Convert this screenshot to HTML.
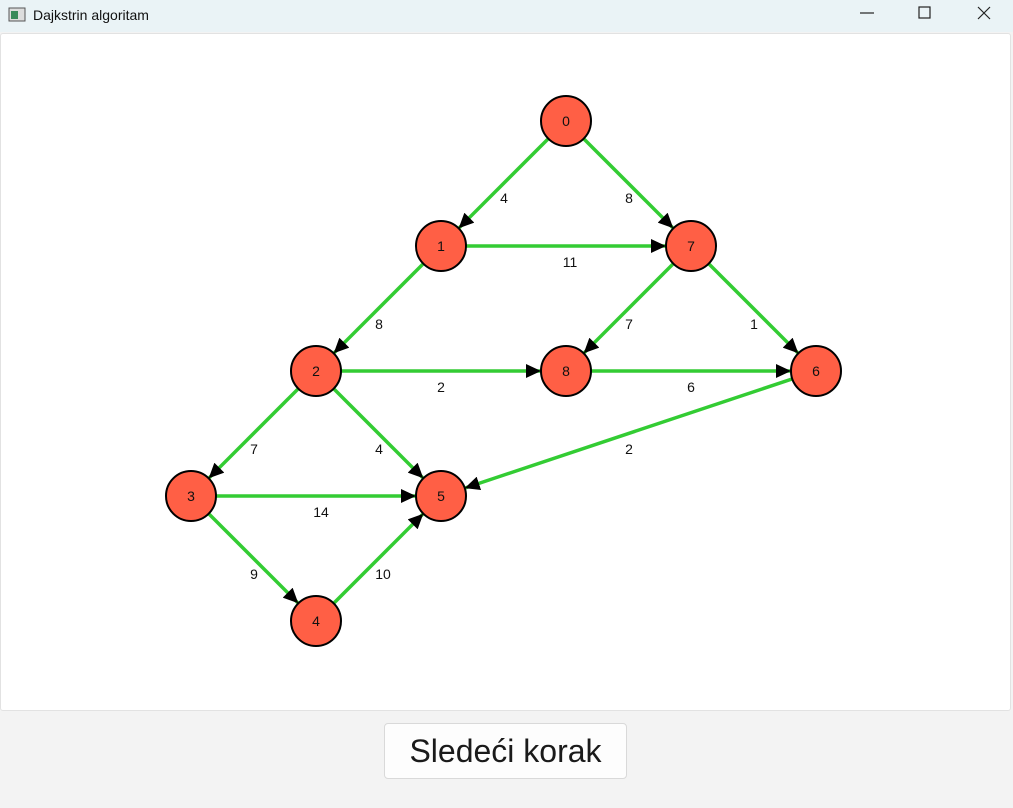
<!DOCTYPE html>
<html><head><meta charset="utf-8"><style>
body{margin:0;width:1013px;height:808px;background:#f3f3f3;font-family:"Liberation Sans",sans-serif;position:relative;overflow:hidden}
.tb{position:absolute;left:0;top:0;width:1013px;height:32px;background:#eaf3f6}
.tb span{position:absolute;left:33px;top:7px;font-size:14px;color:#111}
.panel{position:absolute;left:0;top:33px;width:1009px;height:676px;background:#fff;border:1px solid #e2e2e2;border-radius:3px}
.btn{position:absolute;left:384px;top:723px;width:241px;height:54px;background:#fdfdfd;border:1px solid #d9d9d9;border-radius:4px;font-size:32px;color:#1a1a1a;text-align:center;line-height:54px}
svg{position:absolute;left:0;top:0}
</style></head><body>
<div class="tb"><span>Dajkstrin algoritam</span></div>
<div class="panel"></div>
<div class="btn">Sledeći korak</div>
<svg width="1013" height="808">
<defs><marker id="a" markerUnits="userSpaceOnUse" markerWidth="16" markerHeight="14" refX="15" refY="7" orient="auto"><path d="M0,0 L15,7 L0,14 Z" fill="#000"/></marker></defs>
<g fill="none" stroke-width="1" stroke="#555"><rect x="9" y="8" width="16" height="13" fill="#ddd"/><rect x="11" y="11" width="7" height="8" fill="#3a8a5a" stroke="none"/></g>
<g stroke="#222" stroke-width="1.2"><path d="M860,13H874"/><rect x="919" y="7" width="11" height="11" fill="none"/><path d="M978,7L990,19M990,7L978,19"/></g>
<g stroke="#33cc33" stroke-width="3.5" marker-end="url(#a)">
<line x1="566" y1="121" x2="458.7" y2="228.3"/>
<line x1="566" y1="121" x2="673.3" y2="228.3"/>
<line x1="441" y1="246" x2="666" y2="246"/>
<line x1="441" y1="246" x2="333.7" y2="353.3"/>
<line x1="691" y1="246" x2="583.7" y2="353.3"/>
<line x1="691" y1="246" x2="798.3" y2="353.3"/>
<line x1="316" y1="371" x2="541" y2="371"/>
<line x1="566" y1="371" x2="791" y2="371"/>
<line x1="816" y1="371" x2="464.7" y2="488.1"/>
<line x1="316" y1="371" x2="208.7" y2="478.3"/>
<line x1="316" y1="371" x2="423.3" y2="478.3"/>
<line x1="191" y1="496" x2="416" y2="496"/>
<line x1="191" y1="496" x2="298.3" y2="603.3"/>
<line x1="316" y1="621" x2="423.3" y2="513.7"/>
</g>
<g fill="#ff5f45" stroke="#000" stroke-width="2">
<circle cx="566" cy="121" r="25"/><circle cx="441" cy="246" r="25"/><circle cx="691" cy="246" r="25"/>
<circle cx="316" cy="371" r="25"/><circle cx="566" cy="371" r="25"/><circle cx="816" cy="371" r="25"/>
<circle cx="191" cy="496" r="25"/><circle cx="441" cy="496" r="25"/><circle cx="316" cy="621" r="25"/>
</g>
<g font-size="14" text-anchor="middle" fill="#111">
<text x="566" y="126">0</text><text x="441" y="251">1</text><text x="691" y="251">7</text>
<text x="316" y="376">2</text><text x="566" y="376">8</text><text x="816" y="376">6</text>
<text x="191" y="501">3</text><text x="441" y="501">5</text><text x="316" y="626">4</text>
<text x="504" y="203">4</text><text x="629" y="203">8</text><text x="570" y="267">11</text>
<text x="379" y="329">8</text><text x="629" y="329">7</text><text x="754" y="329">1</text>
<text x="441" y="392">2</text><text x="691" y="392">6</text><text x="629" y="454">2</text>
<text x="254" y="454">7</text><text x="379" y="454">4</text><text x="321" y="517">14</text>
<text x="254" y="579">9</text><text x="383" y="579">10</text>
</g>
</svg>
</body></html>
